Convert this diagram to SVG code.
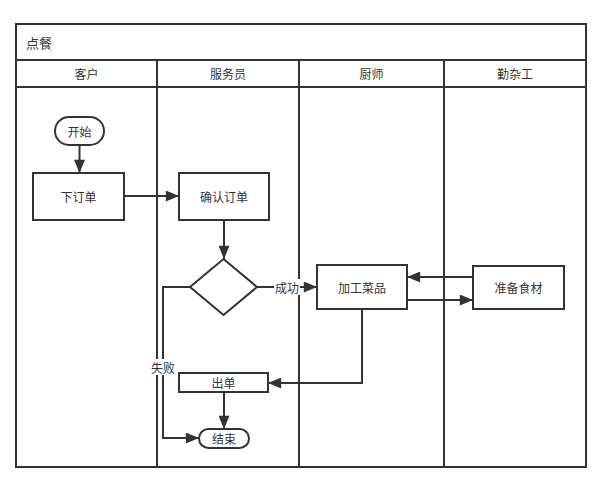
<svg xmlns="http://www.w3.org/2000/svg" width="599" height="495" viewBox="0 0 599 495">
<defs>
<style>
.ln{fill:none;stroke:#333;stroke-width:2}
.nd{fill:#fff;stroke:#333;stroke-width:2}
.tx{font-family:"Noto Sans CJK SC","Liberation Sans",sans-serif;font-size:12px;fill:#333;text-anchor:middle;dominant-baseline:central}
.lb{font-family:"Noto Sans CJK SC","Liberation Sans",sans-serif;font-size:12px;fill:#333;text-anchor:middle;dominant-baseline:central}
</style>
<marker id="ah" viewBox="0 0 10 10" refX="10" refY="5" markerWidth="7" markerHeight="7" markerUnits="userSpaceOnUse" orient="auto">
<path d="M0,0 L10,5 L0,10 z" fill="#333"/>
</marker>
<marker id="a" viewBox="0 0 12 10" refX="12" refY="5" markerWidth="14" markerHeight="11" markerUnits="userSpaceOnUse" orient="auto">
<path d="M0,0 L12,5 L0,10 z" fill="#333"/>
</marker>
</defs>
<rect width="599" height="495" fill="#fff"/>
<g id="pool">
<rect x="16" y="24" width="570" height="443" class="nd"/>
<line x1="16" y1="60" x2="586" y2="60" class="ln"/>
<line x1="16" y1="87" x2="586" y2="87" class="ln"/>
<line x1="157" y1="60" x2="157" y2="467" class="ln"/>
<line x1="299" y1="60" x2="299" y2="467" class="ln"/>
<line x1="444" y1="60" x2="444" y2="467" class="ln"/>
<text x="26" y="42" class="tx" style="text-anchor:start;font-size:13px">点餐</text>
<text x="86.5" y="73.5" class="tx">客户</text>
<text x="228" y="73.5" class="tx">服务员</text>
<text x="371.5" y="73.5" class="tx">厨师</text>
<text x="515" y="73.5" class="tx">勤杂工</text>
</g>
<g id="connectors">
<line x1="79.5" y1="145" x2="79.5" y2="173" class="ln" marker-end="url(#a)"/>
<line x1="124" y1="196" x2="179" y2="196" class="ln" marker-end="url(#a)"/>
<line x1="224" y1="220" x2="224" y2="259" class="ln" marker-end="url(#a)"/>
<line x1="257" y1="287" x2="317" y2="287" class="ln" marker-end="url(#a)"/>
<polyline points="190,287 163,287 163,438 199,438" class="ln" marker-end="url(#a)"/>
<line x1="473" y1="277" x2="407" y2="277" class="ln" marker-end="url(#a)"/>
<line x1="407" y1="300" x2="473" y2="300" class="ln" marker-end="url(#a)"/>
<polyline points="362,309 362,383 268,383" class="ln" marker-end="url(#a)"/>
<line x1="224" y1="392" x2="224" y2="429" class="ln" marker-end="url(#a)"/>
<rect x="274" y="279" width="26" height="16" fill="#fff"/>
<text x="287" y="287" class="lb">成功</text>
<rect x="150" y="359" width="26" height="16" fill="#fff"/>
<text x="163" y="367" class="lb">失败</text>
</g>
<g id="start">
<rect x="55" y="117" width="49" height="28" rx="14" class="nd"/>
<text x="79.5" y="131" class="tx">开始</text>
</g>
<g id="order">
<rect x="33" y="173" width="91" height="47" class="nd"/>
<text x="78.5" y="196.5" class="tx">下订单</text>
</g>
<g id="confirm">
<rect x="179" y="173" width="90" height="47" class="nd"/>
<text x="224" y="196.5" class="tx">确认订单</text>
</g>
<g id="decision">
<polygon points="223.5,259 257,287 223.5,315 190,287" class="nd"/>
</g>
<g id="cook">
<rect x="317" y="265" width="90" height="44" class="nd"/>
<text x="362" y="287" class="tx">加工菜品</text>
</g>
<g id="prepare">
<rect x="473" y="266" width="91" height="43" class="nd"/>
<text x="518.5" y="287.5" class="tx">准备食材</text>
</g>
<g id="serve">
<rect x="179" y="373" width="89" height="19" class="nd"/>
<text x="223.5" y="382.5" class="tx">出单</text>
</g>
<g id="end">
<rect x="199" y="429" width="50" height="19" rx="9.5" class="nd"/>
<text x="224" y="438.5" class="tx">结束</text>
</g>
</svg>
